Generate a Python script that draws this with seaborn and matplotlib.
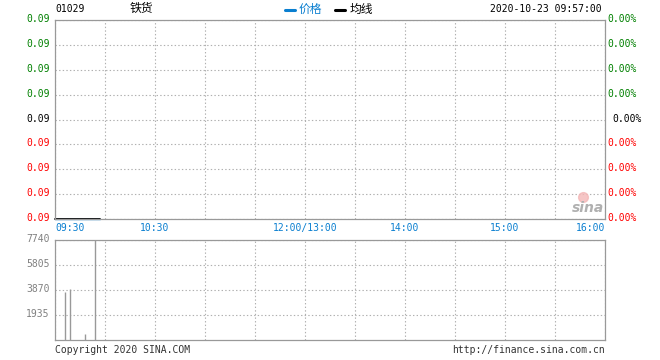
import matplotlib
matplotlib.use("Agg")
import matplotlib.pyplot as plt
import matplotlib.transforms as mtransforms
import seaborn as sns
import pandas as pd

# ---------------- data ----------------
code = "01029"
name = "铁货"
stamp = "2020-10-23 09:57:00"
legend_labels = ["价格", "均线"]

# minutes after 09:30 (trading minutes, lunch break removed)
price_minutes = [0, 3, 6, 9, 12, 15, 18, 21, 24, 27]
price_values = [0.09, 0.09, 0.09, 0.09, 0.09, 0.09, 0.09, 0.09, 0.09, 0.09]
avg_values = [0.09, 0.09, 0.09, 0.09, 0.09, 0.09, 0.09, 0.09, 0.09, 0.09]

vol_minutes = [6, 9, 18, 24]
vol_values = [3740, 3950, 460, 7740]

x_tick_minutes = [0, 30, 60, 90, 120, 150, 180, 210, 240, 270, 300, 330]
x_tick_labels = ["09:30", "", "10:30", "", "", "12:00/13:00", "", "14:00", "", "15:00", "", "16:00"]

price_ticks = [0.0900, 0.0901, 0.0902, 0.0903, 0.0904, 0.0905, 0.0906, 0.0907, 0.0908]
price_tick_labels = ["0.09"] * 9
pct_tick_labels = ["0.00%"] * 9
vol_ticks = [1935, 3870, 5805, 7740]
vol_tick_labels = ["1935", "3870", "5805", "7740"]

# ---------------- style ----------------
sns.set_style("white")
plt.rcParams["font.family"] = ["DejaVu Sans Mono", "Noto Sans CJK SC"]
plt.rcParams["font.size"] = 7
plt.rcParams["lines.scale_dashes"] = False

GREEN = "#008000"
RED = "#ff0000"
BLUE = "#0a7fd0"
GRAY = "#999999"
GRID = "#b0b0b0"
LBL_GRAY = "#808080"

W, H = 660, 360
fig = plt.figure(figsize=(6.6, 3.6), dpi=100)

def px_rect(left, top, right, bottom):
    return [left / W, 1 - bottom / H, (right - left) / W, (bottom - top) / H]

ax = fig.add_axes(px_rect(55, 20, 605, 219))
axv = fig.add_axes(px_rect(55, 240, 605, 340))

def shift(lbl, dx_px, dy_px):
    lbl.set_transform(lbl.get_transform() +
                      mtransforms.ScaledTranslation(dx_px / 100, dy_px / 100, fig.dpi_scale_trans))

DOT = (0, (1.0, 1.6))

# ---------------- price panel ----------------
df = pd.DataFrame({"m": price_minutes, "price": price_values, "avg": avg_values})
sns.lineplot(data=df, x="m", y="price", ax=ax, color=BLUE, lw=1.0, clip_on=False)
sns.lineplot(data=df, x="m", y="avg", ax=ax, color="black", lw=1.3, clip_on=False)

ax.set_xlim(0, 330)
ax.set_ylim(price_ticks[0], price_ticks[-1])
ax.set_xticks(x_tick_minutes)
ax.set_xticklabels(x_tick_labels)
ax.set_yticks(price_ticks)
ax.set_yticklabels(price_tick_labels)
ax.set_xlabel("")
ax.set_ylabel("")
ax.grid(True, color=GRID, lw=0.8, linestyle=DOT)
ax.tick_params(length=0, pad=4, labelsize=7)
for s in ax.spines.values():
    s.set_color(GRAY)
    s.set_linewidth(0.9)

for i, lbl in enumerate(ax.get_yticklabels()):
    lbl.set_color(RED if i < 4 else ("black" if i == 4 else GREEN))
    shift(lbl, 0, 2)

xl = ax.get_xticklabels()
for i, lbl in enumerate(xl):
    lbl.set_color(BLUE)
    if i == 0:
        lbl.set_ha("left")
    elif i == len(xl) - 1:
        lbl.set_ha("right")
        shift(lbl, -1, 0)
    else:
        shift(lbl, -5, 0)
ax.tick_params(axis="x", pad=3)

ax2 = ax.twinx()
ax2.set_ylim(price_ticks[0], price_ticks[-1])
ax2.set_yticks(price_ticks)
ax2.set_yticklabels(pct_tick_labels)
ax2.tick_params(length=0, pad=2, labelsize=7)
for s in ax2.spines.values():
    s.set_visible(False)
for i, lbl in enumerate(ax2.get_yticklabels()):
    lbl.set_color(RED if i < 4 else ("black" if i == 4 else GREEN))
    shift(lbl, 5 if i == 4 else 0, 2)

# ---------------- volume panel ----------------
dv = pd.DataFrame({"m": vol_minutes, "v": vol_values})
axv.vlines(dv["m"], 0, dv["v"], color="#999999", lw=1.0)
axv.set_xlim(0, 330)
axv.set_ylim(0, 7740)
axv.set_xticks(x_tick_minutes)
axv.set_xticklabels([])
axv.set_yticks(vol_ticks)
axv.set_yticklabels(vol_tick_labels)
axv.grid(True, color=GRID, lw=0.8, linestyle=DOT)
axv.tick_params(length=0, pad=4, labelsize=7, labelcolor=LBL_GRAY)
for s in axv.spines.values():
    s.set_color(GRAY)
    s.set_linewidth(0.9)
for lbl in axv.get_yticklabels():
    shift(lbl, 0, 2)

# ---------------- header / footer ----------------
def ftext(x, y, s, **kw):
    fig.text(x / W, 1 - y / H, s, **kw)

CJK = ["Noto Sans CJK SC", "DejaVu Sans"]
ftext(55, 8.5, code, ha="left", va="center", fontsize=7, color="black")
ftext(130, 8.5, name, ha="left", va="center", fontsize=8.5, color="black", family=CJK)
fig.add_artist(plt.Line2D([285 / W, 295 / W], [1 - 10 / H, 1 - 10 / H], color=BLUE, lw=2.2))
ftext(299, 9, legend_labels[0], ha="left", va="center", fontsize=8.5, color=BLUE, family=CJK)
fig.add_artist(plt.Line2D([335 / W, 345 / W], [1 - 10 / H, 1 - 10 / H], color="black", lw=2.2))
ftext(350, 9, legend_labels[1], ha="left", va="center", fontsize=8.5, color="black", family=CJK)
ftext(602, 9, stamp, ha="right", va="center", fontsize=7, color="black")

ftext(55, 350, "Copyright 2020 SINA.COM", ha="left", va="center", fontsize=7, color="#333333")
ftext(605, 350, "http://finance.sina.com.cn", ha="right", va="center", fontsize=7, color="#333333")

# sina watermark
ftext(588, 208, "sina", ha="center", va="center", fontsize=10, color="#b0b0b0",
      family="DejaVu Sans", weight="bold", style="italic")
fig.add_artist(plt.Line2D([583 / W], [1 - 197 / H], marker="o", ms=7, mfc="#f4b8b8",
                          mec="#f4b8b8", alpha=0.8))

fig.savefig("out.png", dpi=100)
